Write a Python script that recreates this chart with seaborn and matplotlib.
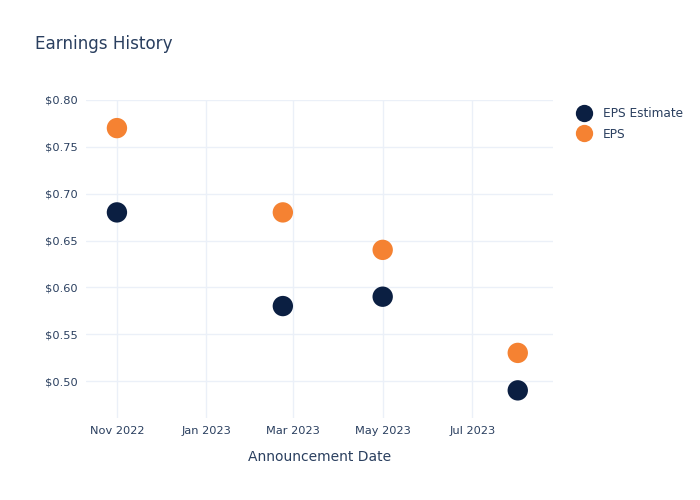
import matplotlib
matplotlib.use("Agg")
import matplotlib.pyplot as plt
import matplotlib.dates as mdates
import matplotlib.ticker as mticker
import seaborn as sns
import pandas as pd

# Data
dates = ["2022-11-01", "2023-02-22", "2023-05-01", "2023-08-01"]
eps_estimate = [0.68, 0.58, 0.59, 0.49]
eps_actual = [0.77, 0.68, 0.64, 0.53]
series_names = ["EPS Estimate", "EPS"]
colors = ["#0b1f42", "#f58232"]

df = pd.DataFrame({
    "date": pd.to_datetime(dates * 2),
    "value": eps_estimate + eps_actual,
    "series": [series_names[0]] * len(dates) + [series_names[1]] * len(dates),
})

sns.set_style("white")
plt.rcParams["font.family"] = ["DejaVu Sans"]
text_color = "#2a3f5f"

fig = plt.figure(figsize=(7, 5), dpi=100)
ax = fig.add_axes([0.123, 0.164, 0.667, 0.636])

sns.scatterplot(data=df, x="date", y="value", hue="series", hue_order=series_names,
                palette=colors, s=215, edgecolor="none", ax=ax, zorder=3)

ax.set_xlim(pd.Timestamp("2022-10-11"), pd.Timestamp("2023-08-25"))
ax.set_ylim(0.4605, 0.80)
ax.xaxis.set_major_locator(mdates.MonthLocator(bymonth=[1, 3, 5, 7, 9, 11]))
ax.xaxis.set_major_formatter(mdates.DateFormatter("%b %Y"))
ax.yaxis.set_major_locator(mticker.MultipleLocator(0.05))
ax.yaxis.set_major_formatter(mticker.FuncFormatter(lambda v, p: f"${v:.2f}"))

ax.grid(True, color="#ebf0f8", linewidth=1)
ax.set_axisbelow(True)
for sp in ax.spines.values():
    sp.set_visible(False)
ax.tick_params(axis="both", length=0, labelsize=8.2, colors=text_color, pad=6)

ax.set_xlabel("Announcement Date", fontsize=10, color=text_color, labelpad=10)
ax.set_ylabel("")
fig.text(0.05, 0.912, "Earnings History", fontsize=12.1, color=text_color, va="center")

leg = fig.legend(*ax.get_legend_handles_labels(), loc="upper left",
                 bbox_to_anchor=(0.81, 0.795), frameon=False,
                 fontsize=8.7, handletextpad=0.55, labelspacing=0.6, borderaxespad=0,
                 markerscale=0.85)
ax.get_legend().remove()
for t in leg.get_texts():
    t.set_color(text_color)

fig.savefig("out.png", dpi=100)
